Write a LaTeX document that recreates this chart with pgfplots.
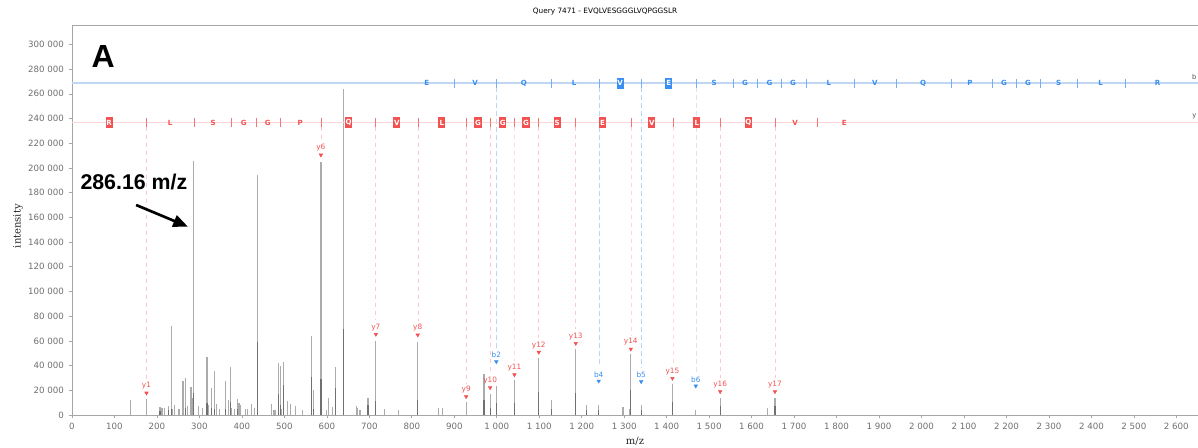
\documentclass[border=0pt]{standalone}
\usepackage{pgfplots}
\pgfplotsset{compat=1.18}
\usepackage{fontspec}
\setmainfont{DejaVu Sans}
\newfontfamily\arialfont{Liberation Sans}
\newfontfamily\seriffont{DejaVu Serif}
\usetikzlibrary{arrows.meta}
\definecolor{peakl}{HTML}{ABABAB}
\definecolor{peakd}{HTML}{707070}
\definecolor{yred}{HTML}{F25252}
\definecolor{bblue}{HTML}{3A8EEF}
\definecolor{yredl}{HTML}{FFD6D6}
\definecolor{bbluel}{HTML}{BFD7F2}
\definecolor{yredd}{HTML}{FFC8C8}
\definecolor{bblued}{HTML}{BCD4F5}
\definecolor{tickgray}{HTML}{6E6E6E}
\definecolor{axgray}{HTML}{A6A6A6}
\newcommand\ladfont{\fontsize{5.3}{6}\selectfont\bfseries}
\newcommand\ionfont{\fontsize{5.5}{6.5}\selectfont}
\begin{document}
\begin{tikzpicture}
\useasboundingbox (-54pt,-24.75pt) rectangle (844.5pt,311.25pt);
\begin{axis}[
  at={(0pt,0pt)}, anchor=south west,
  scale only axis, width=844.5pt, height=292pt,
  xmin=0, xmax=2651, ymin=0, ymax=315200,
  xtick={0,100,...,2600},
  ytick={0,20000,...,300000},
  scaled ticks=false,
  /pgf/number format/fixed,
  /pgf/number format/1000 sep={\ },
  /pgf/number format/assume math mode=true,
  tick label style={font=\fontsize{6.5}{7}\selectfont, text=tickgray},
  tick style={draw=axgray, line width=0.5pt},
  major tick length=2.5pt, tick align=outside, tick pos=left,
  axis line style={draw=axgray, line width=0.7pt},
  title={Query 7471 - EVQLVESGGGLVQPGGSLR},
  title style={font=\fontsize{5.5}{6}\selectfont, at={(axis description cs:0.4734,1.0145)}, anchor=center},
  xlabel={m/z},
  xlabel style={font=\seriffont\fontsize{7.5}{8}\selectfont, text=black!85, at={(axis description cs:0.5,-0.0685)}, anchor=center},
  ylabel={intensity},
  ylabel style={font=\seriffont\fontsize{7.5}{8}\selectfont, text=black!85, at={(axis description cs:-0.048,0.485)}, anchor=center},
]
% main peaks
\addplot[ycomb, peakl, line width=0.9pt, mark=none] coordinates {
(137,12100) (175.4,12700) (207,6200) (210.7,6000) (214,5800) (217,5600) (226.5,7300)
(233.5,72300) (236,5000) (241,8100) (252,4900) (261.5,27800) (268,30200) (271,7300)
(280,22900) (283.6,13500) (286,206000) (298.7,7300) (307,6000) (318,47200) (320,8000)
(329,21600) (334.7,35600) (339.5,8900) (346.5,5000) (361.3,27800) (368.4,12100)
(373,39100) (376,5500) (382.5,5000) (390.5,12700) (393,10000) (396,8000) (408.5,4900)
(412.4,4500) (422.6,8900) (430.5,5500) (436,194000) (470,9000) (474,4000) (478,4000)
(486,41900) (490,39700) (492.5,5000) (498.8,43200) (508,11000) (515,9000) (525.4,7300)
(542.6,4300) (563,64000) (568.5,20200) (586,205000) (600,4000) (603,13500) (612.5,6200)
(619.6,38600) (638.4,264000) (669,7300) (673,6000) (678,4000) (697,13500) (715.4,60200)
(735.6,4900) (769.5,4300) (814,59300) (862.8,5500) (873,5500) (928,10800) (970,32900)
(984.5,17000) (999,23500) (1041.7,28300) (1099,45900) (1128,12100) (1186,53200)
(1212,8100) (1240,8100) (1297,6200) (1311.6,5000) (1315.6,49400) (1340,8100)
(1413.6,25100) (1468.6,4000) (1526,14000) (1637,5400) (1655,14000)
};
% overlapping (darker) lower parts
\addplot[ycomb, peakd, line width=0.9pt, mark=none] coordinates {
(207,3500) (226.5,4000) (233.5,5000) (268,6000) (286,17600) (318,9700) (329,6000)
(334.7,5000) (361.3,5000) (373,10800) (390.5,5000) (436,58900) (486,17000) (490,8000)
(498.8,24300) (563,31000) (568.5,5000) (586,29000) (619.6,21800) (638.4,69400)
(697,8000) (715.4,11300) (814,12000) (970,12100) (984.5,6000) (999,10000)
(1041.7,10000) (1099,18900) (1128,5000) (1186,17800) (1212,4000) (1240,4000)
(1315.6,20200) (1340,4000) (1413.6,10800) (1526,7000) (1655,7000)
};
% dashed guide lines, y ions
\addplot[yredd, dash pattern=on 3.5pt off 2.5pt, line width=0.6pt] coordinates {(176.3,233500) (176.3,29100)};
\addplot[yredd, dash pattern=on 3.5pt off 2.5pt, line width=0.6pt] coordinates {(586.6,233500) (586.6,221800)};
\addplot[yredd, dash pattern=on 3.5pt off 2.5pt, line width=0.6pt] coordinates {(715.4,233500) (715.4,76600)};
\addplot[yredd, dash pattern=on 3.5pt off 2.5pt, line width=0.6pt] coordinates {(815.7,233500) (815.7,76100)};
\addplot[yredd, dash pattern=on 3.5pt off 2.5pt, line width=0.6pt] coordinates {(928,233500) (928,26100)};
\addplot[yredd, dash pattern=on 3.5pt off 2.5pt, line width=0.6pt] coordinates {(985,233500) (985,33400)};
\addplot[yredl, dash pattern=on 3.5pt off 2.5pt, line width=0.6pt] coordinates {(1042.6,233500) (1042.6,43900)};
\addplot[yredd, dash pattern=on 3.5pt off 2.5pt, line width=0.6pt] coordinates {(1099,233500) (1099,62100)};
\addplot[yredd, dash pattern=on 3.5pt off 2.5pt, line width=0.6pt] coordinates {(1186,233500) (1186,69300)};
\addplot[yredl, dash pattern=on 3.5pt off 2.5pt, line width=0.6pt] coordinates {(1316,233500) (1316,64700)};
\addplot[yredl, dash pattern=on 3.5pt off 2.5pt, line width=0.6pt] coordinates {(1415,233500) (1415,41000)};
\addplot[yredd, dash pattern=on 3.5pt off 2.5pt, line width=0.6pt] coordinates {(1526.6,233500) (1526.6,30200)};
\addplot[yredd, dash pattern=on 3.5pt off 2.5pt, line width=0.6pt] coordinates {(1656,233500) (1656,30200)};
% dashed guide lines, b ions
\addplot[bblued, dash pattern=on 3.5pt off 2.5pt, line width=0.6pt] coordinates {(1000.2,265400) (1000.2,54500)};
\addplot[bblued, dash pattern=on 3.5pt off 2.5pt, line width=0.6pt] coordinates {(1241,265400) (1241,38800)};
\addplot[bblued, dash pattern=on 3.5pt off 2.5pt, line width=0.6pt] coordinates {(1340.6,265400) (1340.6,38300)};
\addplot[bbluel!60, dash pattern=on 3.5pt off 2.5pt, line width=0.6pt] coordinates {(1469.4,265400) (1469.4,34800)};
% ladder lines
\addplot[bbluel, line width=1.2pt, mark=none] coordinates {(0,268600) (2651,268600)};
\addplot[yredl, line width=1.2pt, mark=none] coordinates {(0,236700) (2651,236700)};
% ladder separators
\addplot[only marks, mark=|, mark size=3.3pt, mark options={draw=bblue!70, line width=0.6pt}] coordinates {
(900.4,268600) (1000.2,268600) (1128,268600) (1241,268600) (1340.6,268600) (1469.4,268600)
(1556.5,268600) (1613.7,268600) (1670,268600) (1728,268600) (1842,268600) (1940,268600)
(2069.6,268600) (2166,268600) (2222.6,268600) (2279,268600) (2367,268600) (2479,268600)
};
\addplot[only marks, mark=|, mark size=3.3pt, mark options={draw=yred!80, line width=0.6pt}] coordinates {
(176.3,236700) (288.4,236700) (375.5,236700) (433,236700) (490,236700) (586.6,236700)
(715.4,236700) (815.7,236700) (928,236700) (985,236700) (1042.6,236700) (1099,236700)
(1186,236700) (1316,236700) (1415,236700) (1526.6,236700) (1656,236700) (1755,236700)
};
% ladder letters, b
\addplot[draw=none, mark=none, point meta=explicit symbolic, nodes near coords, nodes near coords align={center},
  every node near coord/.append style={font=\ladfont, text=bblue, inner sep=0pt}] coordinates {
(835.4,268600)[E] (949,268600)[V] (1063.8,268600)[Q] (1182,268600)[L] (1511.7,268600)[S]
(1584.7,268600)[G] (1642,268600)[G] (1697.7,268600)[G] (1782,268600)[L] (1890,268600)[V]
(2003.7,268600)[Q] (2114,268600)[P] (2194.4,268600)[G] (2251,268600)[G] (2323,268600)[S]
(2422,268600)[L] (2556,268600)[R]
};
\addplot[draw=none, mark=none, point meta=explicit symbolic, nodes near coords, nodes near coords align={center},
  every node near coord/.append style={font=\ladfont, text=white, fill=bblue, inner sep=0.5pt, minimum width=5.3pt, minimum height=8.2pt}] coordinates {
(1290.5,268600)[V] (1405,268600)[E]
};
% ladder letters, y
\addplot[draw=none, mark=none, point meta=explicit symbolic, nodes near coords, nodes near coords align={center},
  every node near coord/.append style={font=\ladfont, text=yred, inner sep=0pt}] coordinates {
(231,236700)[L] (332.4,236700)[S] (404.6,236700)[G] (461,236700)[G] (537,236700)[P]
(1702.4,236700)[V] (1818,236700)[E]
};
\addplot[draw=none, mark=none, point meta=explicit symbolic, nodes near coords, nodes near coords align={center},
  every node near coord/.append style={font=\ladfont, text=white, fill=yred, inner sep=0.5pt, minimum width=5.3pt, minimum height=8.2pt}] coordinates {
(87.6,236700)[R] (651,236700)[Q] (765,236700)[V] (870.7,236700)[L] (956,236700)[G]
(1014,236700)[G] (1069,236700)[G] (1142,236700)[S] (1249,236700)[E] (1365,236700)[V]
(1471,236700)[L] (1592.5,236700)[Q]
};
% ion annotations
\addplot[only marks, mark=triangle*, mark size=1.5pt, mark options={rotate=180, fill=yred, draw=yred},
  point meta=explicit symbolic, nodes near coords,
  every node near coord/.append style={font=\ionfont, text=yred, inner sep=0.5pt, yshift=2pt}] coordinates {
(175.4,17800)[y1] (586,210500)[y6] (715.4,65300)[y7] (814,64800)[y8] (928,14800)[y9]
(984.5,22100)[y10] (1041.7,32600)[y11] (1099,50800)[y12] (1186,58000)[y13]
(1315.6,53400)[y14] (1413.6,29700)[y15] (1526,18900)[y16] (1655,18900)[y17]
};
\addplot[only marks, mark=triangle*, mark size=1.5pt, mark options={rotate=180, fill=bblue, draw=bblue},
  point meta=explicit symbolic, nodes near coords,
  every node near coord/.append style={font=\ionfont, text=bblue, inner sep=0.5pt, yshift=2pt}] coordinates {
(999,43200)[b2] (1240,27500)[b4] (1340,27000)[b5] (1468.6,23500)[b6]
};
% ladder names at right edge
\node[font=\fontsize{5}{6}\selectfont, text=black!70, anchor=south east, inner sep=1pt] at (axis cs:2651,270500) {b};
\node[font=\fontsize{5}{6}\selectfont, text=black!70, anchor=south east, inner sep=1pt] at (axis cs:2651,238600) {y};
% annotations
\node[font=\arialfont\bfseries\fontsize{24}{26}\selectfont, anchor=center] at (axis cs:73.4,289900) {A};
\node[font=\arialfont\bfseries\fontsize{16}{18}\selectfont, anchor=center] at (axis cs:145.7,188900) {286.16 m/z};
\draw[line width=2pt, -{Triangle[length=11pt,width=9pt]}] (axis cs:151,170000) -- (axis cs:272.8,152500);
\end{axis}
\end{tikzpicture}
\end{document}
